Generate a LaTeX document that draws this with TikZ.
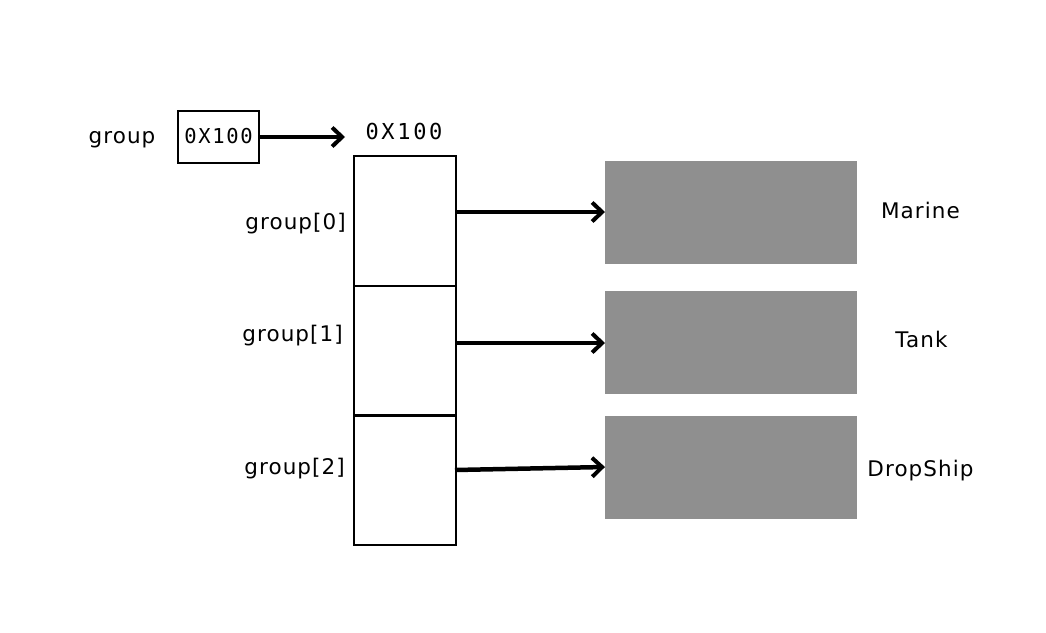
\documentclass[tikz,border=0pt]{standalone}
\usepackage{fontspec}
\setmainfont{DejaVu Sans}[LetterSpace=5]
\newfontfamily\monof{DejaVu Sans Mono}[LetterSpace=8]
\newfontfamily\monog{DejaVu Sans Mono}[LetterSpace=12]
\usetikzlibrary{arrows.meta}
\begin{document}
\begin{tikzpicture}[x=1pt,y=-1pt,
  lbl/.style={font=\fontsize{21.5}{24}\selectfont, inner sep=0pt},
  cell/.style={draw=black, line width=2.2pt, minimum width=102pt, minimum height=129.7pt, inner sep=0pt, anchor=north west},
  obj/.style={fill=black!44, draw=none, minimum width=252pt, minimum height=103pt, inner sep=0pt, anchor=north west},
  ptr/.style={line width=4.5pt, -{Straight Barb[length=10pt,width=19pt,line width=4pt]}}]
\useasboundingbox (0,0) rectangle (1046,632);
\node[lbl, anchor=base] (glab) at (122,143) {group};
\node[draw, line width=2.4pt, minimum width=81pt, minimum height=52pt, inner sep=0pt] (gbox) at (218.5,137) {};
\node[font=\monof\fontsize{20.5}{22}\selectfont, inner sep=0pt, anchor=base] (gval) at (218.5,143) {0X100};
\node[font=\monog\fontsize{22}{24}\selectfont, inner sep=0pt, anchor=base] (addr) at (404,139.5) {0X100};
\node[cell] (c0) at (353,155) {};
\node[cell] (c1) at (353,284.7) {};
\node[cell] (c2) at (353,414.3) {};
\node[lbl, anchor=base east] (l0) at (346,229) {group[0]};
\node[lbl, anchor=base east] (l1) at (343,341) {group[1]};
\node[lbl, anchor=base east] (l2) at (345,474) {group[2]};
\node[obj] (o0) at (605,161) {};
\node[obj] (o1) at (605,291) {};
\node[obj] (o2) at (605,416) {};
\node[lbl, anchor=base] (n0) at (920.5,218) {Marine};
\node[lbl, anchor=base] (n1) at (921.5,347) {Tank};
\node[lbl, anchor=base] (n2) at (920.5,476) {DropShip};
\coordinate (a0) at (455,212);
\coordinate (a1) at (455,343);
\coordinate (a2) at (455,470);
\coordinate (e2) at (605,467);
\draw[ptr] (gbox.east) -- (345,137) coordinate (gt);
\draw[ptr] (a0) -- (o0.west |- a0);
\draw[ptr] (a1) -- (o1.west |- a1);
\draw[ptr] (a2) -- (e2);
\end{tikzpicture}
\end{document}
